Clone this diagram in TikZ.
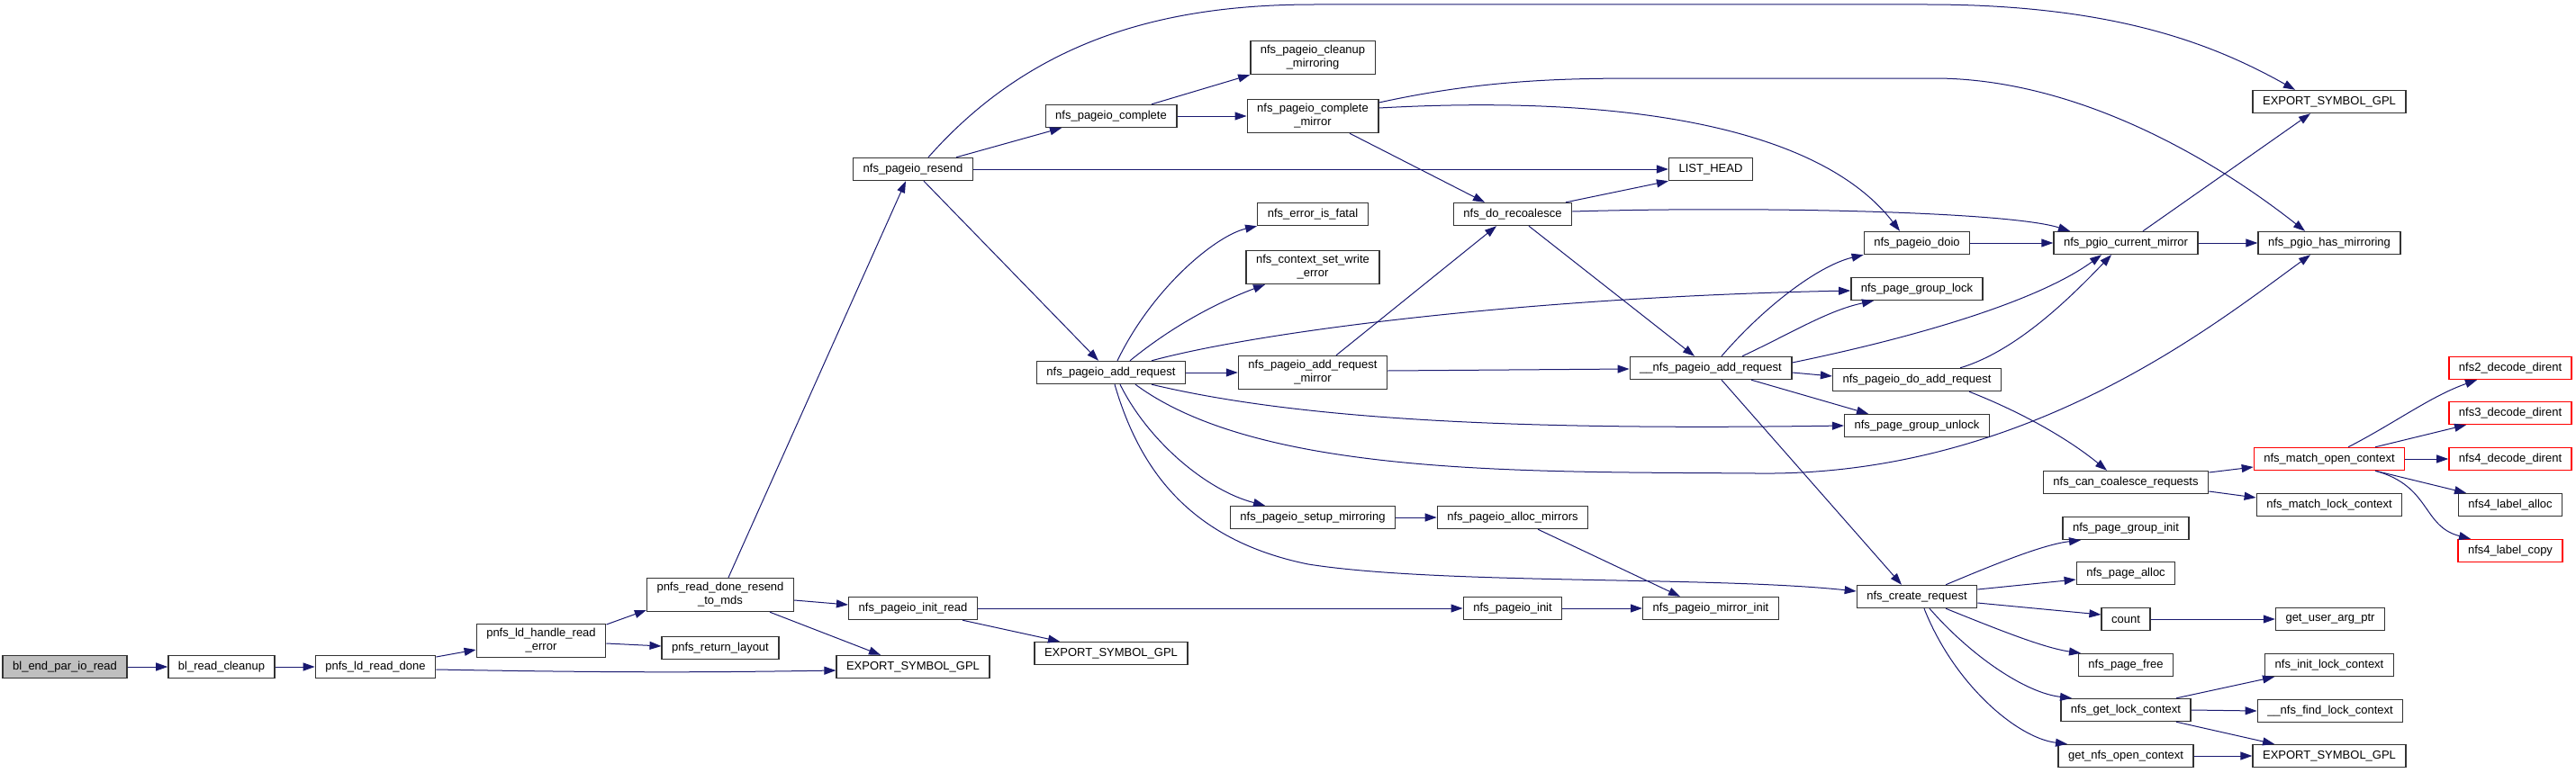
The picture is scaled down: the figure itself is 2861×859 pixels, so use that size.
\documentclass[tikz,border=0pt]{standalone}
\usepackage{fontspec}
\setmainfont{Liberation Sans}
\usetikzlibrary{arrows.meta,calc}
\definecolor{edgeblue}{HTML}{191970}
\definecolor{hlred}{HTML}{FF0000}

\begin{document}
\begin{tikzpicture}[x=1pt,y=-1pt,font=\fontsize{13}{15}\selectfont,
  fn/.style={draw=black!80,line width=1.4pt,fill=white,inner xsep=11pt,inner ysep=5pt,minimum height=25pt,align=center},
  root/.style={fn,fill=black!25},
  ext/.style={fn,draw=hlred},
  call/.style={draw=edgeblue,line width=1pt,-{Triangle[length=13pt,width=9pt]}}]
  \useasboundingbox (0,0) rectangle (2861,859);
  % callers
  \node[root] (blend) at (72,741) {bl\_end\_par\_io\_read};
  \node[fn] (blclean) at (246,741) {bl\_read\_cleanup};
  \node[fn] (ldread) at (417,741) {pnfs\_ld\_read\_done};
  \node[fn] (ldhandle) at (601,712) {pnfs\_ld\_handle\_read\\\_error};
  \node[fn] (resendmds) at (800,661) {pnfs\_read\_done\_resend\\\_to\_mds};
  \node[fn] (retlayout) at (800,720) {pnfs\_return\_layout};
  \node[fn] (expa) at (1014,741) {EXPORT\_SYMBOL\_GPL};
  \node[fn] (initread) at (1014,676) {nfs\_pageio\_init\_read};
  \node[fn] (expb) at (1234,726) {EXPORT\_SYMBOL\_GPL};
  \node[fn] (resend) at (1014,188) {nfs\_pageio\_resend};
  % pageio column
  \node[fn] (complete) at (1234,129) {nfs\_pageio\_complete};
  \node[fn] (addreq) at (1234,414) {nfs\_pageio\_add\_request};
  \node[fn] (cleanmir) at (1458,64) {nfs\_pageio\_cleanup\\\_mirroring};
  \node[fn] (compmir) at (1458,129) {nfs\_pageio\_complete\\\_mirror};
  \node[fn] (errfatal) at (1458,238) {nfs\_error\_is\_fatal};
  \node[fn] (ctxerr) at (1458,297) {nfs\_context\_set\_write\\\_error};
  \node[fn] (addreqmir) at (1458,414) {nfs\_pageio\_add\_request\\\_mirror};
  \node[fn] (setupmir) at (1458,575) {nfs\_pageio\_setup\_mirroring};
  \node[fn] (recoal) at (1680,238) {nfs\_do\_recoalesce};
  \node[fn] (allocmir) at (1680,575) {nfs\_pageio\_alloc\_mirrors};
  \node[fn] (pioinit) at (1680,676) {nfs\_pageio\_init};
  \node[fn] (listhead) at (1900,188) {LIST\_HEAD};
  \node[fn] (uaddreq) at (1900,409) {\_\_nfs\_pageio\_add\_request};
  \node[fn] (mirinit) at (1900,676) {nfs\_pageio\_mirror\_init};
  % page and request helpers
  \node[fn] (doio) at (2129,270) {nfs\_pageio\_doio};
  \node[fn] (grplock) at (2129,321) {nfs\_page\_group\_lock};
  \node[fn] (doadd) at (2129,422) {nfs\_pageio\_do\_add\_request};
  \node[fn] (grpunlock) at (2129,473) {nfs\_page\_group\_unlock};
  \node[fn] (createreq) at (2129,663) {nfs\_create\_request};
  \node[fn] (curmir) at (2361,270) {nfs\_pgio\_current\_mirror};
  \node[fn] (cancoal) at (2361,536) {nfs\_can\_coalesce\_requests};
  \node[fn] (grpinit) at (2361,587) {nfs\_page\_group\_init};
  \node[fn] (pgalloc) at (2361,637) {nfs\_page\_alloc};
  \node[fn] (count) at (2361,688) {count};
  \node[fn] (pgfree) at (2361,739) {nfs\_page\_free};
  \node[fn] (getlock) at (2361,789) {nfs\_get\_lock\_context};
  \node[fn] (getopen) at (2361,840) {get\_nfs\_open\_context};
  \node[fn] (exptop) at (2587,113) {EXPORT\_SYMBOL\_GPL};
  \node[fn] (hasmir) at (2587,270) {nfs\_pgio\_has\_mirroring};
  \node[ext] (matchopen) at (2587,510) {nfs\_match\_open\_context};
  \node[fn] (matchlock) at (2587,561) {nfs\_match\_lock\_context};
  \node[fn] (userarg) at (2588,688) {get\_user\_arg\_ptr};
  \node[fn] (initlock) at (2587,739) {nfs\_init\_lock\_context};
  \node[fn] (findlock) at (2588,790) {\_\_nfs\_find\_lock\_context};
  \node[fn] (expc) at (2587,840) {EXPORT\_SYMBOL\_GPL};
  \node[ext] (dec2) at (2788,409) {nfs2\_decode\_dirent};
  \node[ext] (dec3) at (2788,459) {nfs3\_decode\_dirent};
  \node[ext] (dec4) at (2788,510) {nfs4\_decode\_dirent};
  \node[fn] (lalloc) at (2788,561) {nfs4\_label\_alloc};
  \node[ext] (lcopy) at (2788,612) {nfs4\_label\_copy};
  % left part
  \draw[call] (blend.east) -- (blclean.west);
  \draw[call] (blclean.east) -- (ldread.west);
  \draw[call] ($(ldread.east)+(0,-11)$) -- ($(ldhandle.west)+(0,10)$);
  \draw[call] ($(ldread.east)+(0,3)$) .. controls (700,748) and (800,747) .. ($(expa.west)+(0,4)$);
  \draw[call] ($(ldhandle.east)+(0,-18)$) -- ($(resendmds.west)+(0,17)$);
  \draw[call] ($(ldhandle.east)+(0,3)$) -- ($(retlayout.west)+(0,-2)$);
  \draw[call] ($(resendmds.north)+(9,0)$) -- ($(resend.south)+(-8,0)$);
  \draw[call] ($(resendmds.east)+(0,6)$) -- ($(initread.west)+(0,-4)$);
  \draw[call] ($(resendmds.south)+(55,0)$) -- ($(expa.north)+(-36,0)$);
  \draw[call] (initread.east) -- (pioinit.west);
  \draw[call] ($(initread.south)+(55,0)$) -- ($(expb.north)+(-57,0)$);
  \draw[call] (pioinit.east) -- (mirinit.west);
  % nfs_pageio_resend
  \draw[call] ($(resend.north)+(17,0)$) .. controls (1150,40) and (1300,5) .. (1460,5) -- (2140,5) .. controls (2350,5) and (2460,50) .. ($(exptop.north)+(-38,0)$);
  \draw[call] ($(resend.north)+(48,0)$) -- ($(complete.south)+(-55,0)$);
  \draw[call] (resend.east) -- (listhead.west);
  \draw[call] ($(resend.south)+(12,0)$) -- ($(addreq.north)+(-14,0)$);
  \draw[call] ($(complete.north)+(45,0)$) -- (cleanmir.south west);
  \draw[call] (complete.east) -- (compmir.west);
  \draw[call] ($(compmir.east)+(0,-15)$) .. controls (1650,88) and (1740,87) .. (1830,87) -- (2148,87) .. controls (2300,87) and (2450,170) .. ($(hasmir.north)+(-27,0)$);
  \draw[call] ($(compmir.east)+(0,-9)$) .. controls (1800,105) and (2020,140) .. ($(doio.north)+(-19,0)$);
  \draw[call] ($(compmir.south)+(41,0)$) -- ($(recoal.north)+(-31,0)$);
  \draw[call] ($(recoal.north)+(59,0)$) -- (listhead.south west);
  \draw[call] ($(recoal.east)+(0,-3)$) .. controls (1950,229) and (2230,235) .. ($(curmir.north)+(-62,0)$);
  \draw[call] ($(recoal.south)+(18,0)$) -- ($(uaddreq.north)+(-18,0)$);
  % nfs_pageio_add_request
  \draw[call] ($(addreq.north)+(7,0)$) .. controls (1280,320) and (1350,262) .. (errfatal.south west);
  \draw[call] ($(addreq.north)+(21,0)$) .. controls (1305,360) and (1355,335) .. ($(ctxerr.south)+(-53,0)$);
  \draw[call] ($(addreq.north)+(45,0)$) .. controls (1400,368) and (1700,330) .. ($(grplock.west)+(0,2)$);
  \draw[call] (addreq.east) -- (addreqmir.west);
  \draw[call] ($(addreq.south)+(45,0)$) .. controls (1450,468) and (1700,478) .. (grpunlock.west);
  \draw[call] ($(addreq.south)+(27,0)$) .. controls (1400,530) and (1700,524) .. (1950,526) .. controls (2250,530) and (2460,360) .. ($(hasmir.south)+(-21,0)$);
  \draw[call] ($(addreq.south)+(10,0)$) .. controls (1275,490) and (1340,545) .. ($(setupmir.north)+(-53,0)$);
  \draw[call] ($(addreq.south)+(4,0)$) .. controls (1265,520) and (1320,600) .. (1453,627) .. controls (1600,650) and (1900,640) .. ($(createreq.west)+(0,-6)$);
  \draw[call] ($(addreqmir.north)+(26,0)$) -- ($(recoal.south)+(-18,0)$);
  \draw[call] ($(addreqmir.east)+(0,-2)$) -- ($(uaddreq.west)+(0,1)$);
  \draw[call] (setupmir.east) -- (allocmir.west);
  \draw[call] ($(allocmir.south)+(28,0)$) -- ($(mirinit.north)+(-34,0)$);
  % __nfs_pageio_add_request
  \draw[call] ($(uaddreq.north)+(12,0)$) .. controls (1960,340) and (2020,295) .. (doio.south west);
  \draw[call] ($(uaddreq.north)+(35,0)$) .. controls (1990,370) and (2030,345) .. ($(grplock.south)+(-48,0)$);
  \draw[call] ($(uaddreq.east)+(0,-6)$) .. controls (2150,370) and (2270,330) .. ($(curmir.south)+(-27,0)$);
  \draw[call] ($(uaddreq.east)+(0,5)$) -- ($(doadd.west)+(0,-4)$);
  \draw[call] ($(uaddreq.south)+(45,0)$) -- ($(grpunlock.north)+(-54,0)$);
  \draw[call] ($(uaddreq.south)+(12,0)$) -- ($(createreq.north)+(-17,0)$);
  \draw[call] (doio.east) -- (curmir.west);
  \draw[call] ($(curmir.north)+(19,0)$) -- ($(exptop.south)+(-21,0)$);
  \draw[call] (curmir.east) -- (hasmir.west);
  \draw[call] ($(doadd.north)+(48,0)$) .. controls (2240,390) and (2300,330) .. ($(curmir.south)+(-16,0)$);
  \draw[call] ($(doadd.south)+(58,0)$) .. controls (2250,460) and (2300,490) .. ($(cancoal.north)+(-21,0)$);
  \draw[call] ($(cancoal.east)+(0,-11)$) -- ($(matchopen.west)+(0,9)$);
  \draw[call] ($(cancoal.east)+(0,10)$) -- ($(matchlock.west)+(0,-8)$);
  % nfs_match_open_context
  \draw[call] ($(matchopen.north)+(21,0)$) .. controls (2660,470) and (2700,440) .. ($(dec2.south)+(-37,0)$);
  \draw[call] ($(matchopen.north)+(51,0)$) -- ($(dec3.south)+(-49,0)$);
  \draw[call] (matchopen.east) -- (dec4.west);
  \draw[call] ($(matchopen.south)+(51,0)$) -- ($(lalloc.north)+(-49,0)$);
  \draw[call] ($(matchopen.south)+(51,0)$) .. controls (2700,540) and (2690,585) .. ($(lcopy.north)+(-44,0)$);
  % nfs_create_request
  \draw[call] ($(createreq.north)+(32,0)$) .. controls (2220,625) and (2270,605) .. ($(grpinit.south)+(-50,0)$);
  \draw[call] ($(createreq.east)+(0,-8)$) -- ($(pgalloc.west)+(0,7)$);
  \draw[call] ($(createreq.east)+(0,7)$) -- ($(count.west)+(0,-5)$);
  \draw[call] ($(createreq.south)+(32,0)$) .. controls (2220,700) and (2270,720) .. ($(pgfree.north)+(-50,0)$);
  \draw[call] ($(createreq.south)+(14,0)$) .. controls (2190,730) and (2250,770) .. ($(getlock.north)+(-60,0)$);
  \draw[call] ($(createreq.south)+(8,0)$) .. controls (2170,760) and (2240,820) .. ($(getopen.north)+(-65,0)$);
  \draw[call] (count.east) -- (userarg.west);
  \draw[call] ($(getlock.north)+(56,0)$) -- ($(initlock.south)+(-61,0)$);
  \draw[call] (getlock.east) -- (findlock.west);
  \draw[call] ($(getlock.south)+(56,0)$) -- ($(expc.north)+(-61,0)$);
  \draw[call] (getopen.east) -- (expc.west);
\end{tikzpicture}
\end{document}
